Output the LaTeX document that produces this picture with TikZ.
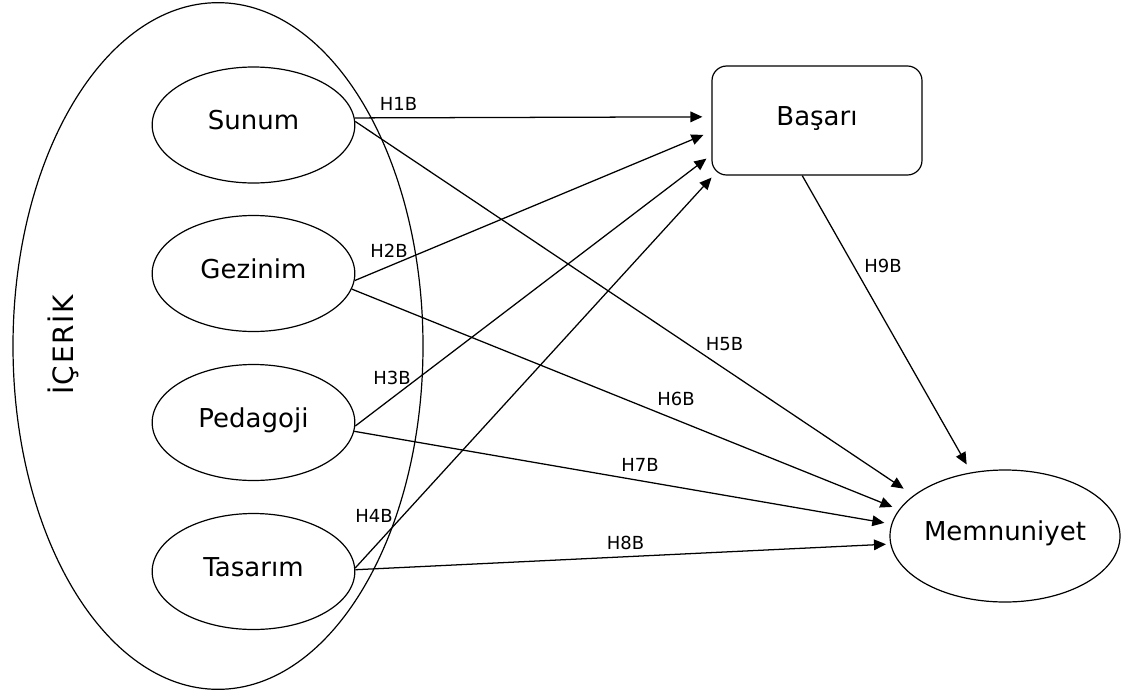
\documentclass[tikz,border=0pt]{standalone}
\usepackage{fontspec}
\setmainfont{DejaVu Sans}
\usetikzlibrary{shapes.geometric,arrows.meta}

\tikzset{
  construct/.style={draw, ellipse, line width=0.9pt, inner sep=0pt,
    minimum width=152pt, minimum height=87pt,
    font=\fontsize{19.5}{22}\selectfont, text height=0.73em, text depth=0pt},
  outcome/.style={construct, minimum width=172.5pt, minimum height=99pt},
  boxnode/.style={draw, rectangle, rounded corners=11pt, line width=0.9pt,
    minimum width=157.5pt, minimum height=81.75pt,
    font=\fontsize{19.5}{22}\selectfont, text height=0.73em, text depth=0pt},
  path/.style={line width=0.95pt, -{Triangle[length=9pt,width=8pt]}},
  hlabel/.style={font=\fontsize{13.5}{15}\selectfont, inner sep=0pt}
}

\begin{document}
\begin{tikzpicture}[x=0.75pt, y=-0.75pt]
  \useasboundingbox (0,0) rectangle (1121,693);

  % content group
  \node[draw, ellipse, line width=0.9pt, minimum width=307.5pt, minimum height=515pt, inner sep=0pt] (icerik) at (218,346) {};
  \node[rotate=90, font=\fontsize{21}{24}\selectfont\addfontfeature{LetterSpace=6}] (icerikLabel) at (63,345) {İÇERİK};

  % dimensions
  \node[construct] (sunum)    at (253.5,125)   {Sunum};
  \node[construct] (gezinim)  at (253.5,273.5) {Gezinim};
  \node[construct] (pedagoji) at (253.5,422.5) {Pedagoji};
  \node[construct] (tasarim)  at (253.5,571.5) {Tasarım};

  % outcomes
  \node[boxnode] (basari) at (817,120.5) {Başarı};
  \node[outcome] (memnun) at (1005,536) {Memnuniyet};

  % paths to Başarı
  \draw[path, shorten >=6.75pt] (sunum.4.5)   -- (basari.178);
  \draw[path, shorten >=6.5pt]  (gezinim.356) -- (basari.186.1);
  \draw[path, shorten >=4.7pt]  (pedagoji.358) -- (basari.198.8);
  \draw[path, shorten >=2pt]    (tasarim.2.5) -- (basari.208.5);

  % paths to Memnuniyet
  \draw[path, shorten >=8.9pt] (sunum.2)       -- (memnun.156.9);
  \draw[path, shorten >=5.3pt] (gezinim.351.6) -- (memnun.166);
  \draw[path, shorten >=5.3pt] (pedagoji.355)  -- (memnun.174);
  \draw[path, shorten >=3.2pt] (tasarim.1.5)   -- (memnun.184.9);
  \draw[path, shorten >=6.8pt] (basari.255)    -- (memnun.118);

  % hypothesis labels
  \node[hlabel] (h1) at (398.5,103.5) {H1B};
  \node[hlabel] (h2) at (389,251)     {H2B};
  \node[hlabel] (h3) at (392,378)     {H3B};
  \node[hlabel] (h4) at (374,516)     {H4B};
  \node[hlabel] (h5) at (724.5,344.5) {H5B};
  \node[hlabel] (h6) at (676,399)     {H6B};
  \node[hlabel] (h7) at (640,465)     {H7B};
  \node[hlabel] (h8) at (625.5,543)   {H8B};
  \node[hlabel] (h9) at (883,265.5)   {H9B};
\end{tikzpicture}
\end{document}
